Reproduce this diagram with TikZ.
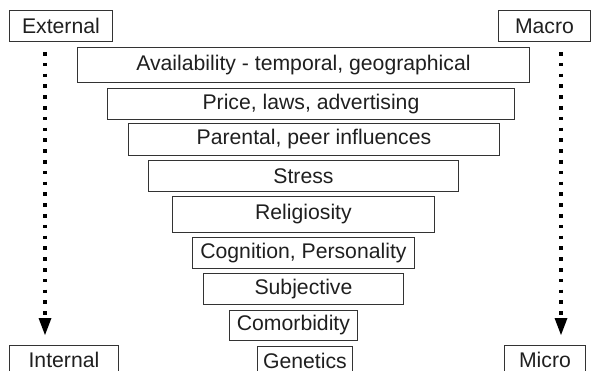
\documentclass[tikz,border=0pt]{standalone}
\usepackage{fontspec}
\setmainfont{Liberation Sans}
\usetikzlibrary{arrows.meta}
\begin{document}
\begin{tikzpicture}[x=1pt,y=-1pt,
  lbox/.style={draw=black!80,line width=0.9pt,inner sep=0pt,anchor=north west,
    font=\fontsize{21.2}{24}\selectfont,text=black!88},
  dotarrow/.style={line width=3.6pt,dash pattern=on 3.6pt off 7.2pt,
    -{Triangle[width=13pt,length=17pt,line width=0pt]},black}
]
\useasboundingbox (0,0) rectangle (591,371);
\clip (0,0) rectangle (591,371);
\newcommand{\bx}[6]{\node[lbox,minimum width=#4-#2,minimum height=#5-#3] (#1) at (#2,#3) {#6};}
\bx{ext}{9}{10}{112}{41}{External}
\bx{mac}{498}{10}{590}{41}{Macro}
\bx{avail}{77}{47}{529}{82}{Availability - temporal, geographical}
\bx{price}{107}{88}{514}{119}{Price, laws, advertising}
\bx{par}{128}{123}{499}{155}{Parental, peer influences}
\bx{stress}{148}{160}{458}{191}{Stress}
\bx{rel}{172}{196}{434}{232}{Religiosity}
\bx{cog}{192}{237}{414}{268}{Cognition, Personality}
\bx{subj}{203}{273}{403}{304}{Subjective}
\bx{com}{229}{310}{357}{340}{Comorbidity}
\bx{int}{9}{345}{118}{374}{Internal}
\bx{gen}{257}{346}{352}{374}{Genetics}
\bx{mic}{504}{345}{585}{374}{Micro}
\coordinate (ls) at (45,52);
\coordinate (le) at (45,335);
\coordinate (rs) at (561,52);
\coordinate (re) at (561,335);
\draw[dotarrow] (ls) -- (le);
\draw[dotarrow] (rs) -- (re);
\end{tikzpicture}
\end{document}
